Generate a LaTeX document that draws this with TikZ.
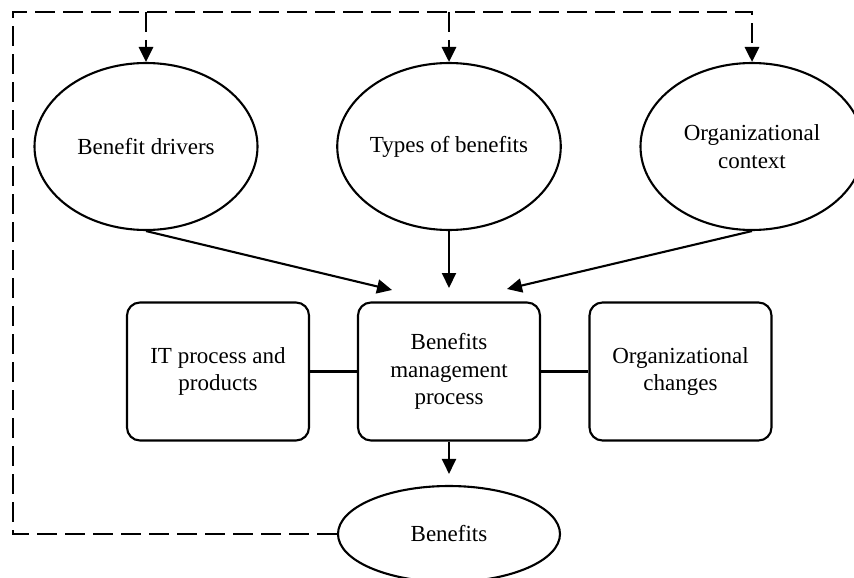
\documentclass[tikz,border=0pt]{standalone}
\usepackage{fontspec}
\setmainfont{Liberation Serif}
\usetikzlibrary{shapes.geometric,arrows.meta}
\begin{document}
\begin{tikzpicture}[x=1pt,y=-1pt,
  every node/.style={font=\fontsize{23}{27.5}\selectfont, align=center},
  oval/.style={draw, ellipse, line width=2.1pt, inner sep=0pt},
  bigoval/.style={oval, minimum width=223pt, minimum height=167pt},
  box/.style={draw, rounded corners=13pt, line width=2.1pt,
    minimum width=182pt, minimum height=138pt, inner sep=0pt},
  link/.style={line width=2.1pt},
  tip/.style={-{Triangle[length=15pt,width=14pt]}},
  flow/.style={link, tip},
  feedback/.style={line width=2.9pt, dash pattern=on 20pt off 8pt},
]
\useasboundingbox (0,0) rectangle (854,578);

% inputs
\node[bigoval] (drivers) at (146,146.5) {Benefit drivers};
\node[bigoval] (types)   at (449,146.5) {Types of benefits};
\node[bigoval] (context) at (752,146.5) {Organizational\\context};

% process row
\node[box] (itp) at (218,371.5) {IT process and\\products};
\node[box] (bmp) at (449,371.5) {Benefits\\management\\process};
\node[box] (orgc) at (680.5,371.5) {Organizational\\changes};

% outcome
\node[oval, minimum width=222pt, minimum height=96pt] (benefits) at (449,534) {Benefits};

% arrow ends just above the central box
\coordinate (inL) at (392,290);
\coordinate (inR) at (507,289);
\coordinate (inM) at (bmp.north |- 0,288);

\draw[flow] (drivers.south) -- (inL);
\draw[flow] (types.south) -- (inM);
\draw[flow] (context.south) -- (inR);

\draw[link] (itp.east) -- (bmp.west);
\draw[link] (bmp.east) -- (orgc.west);

\draw[flow, shorten >=11pt] (bmp.south) -- (benefits.north);

% feedback loop
\coordinate (cornerB) at (13,534);
\coordinate (cornerT) at (13,12);
\draw[feedback, tip] (benefits.west) -- (cornerB) -- (cornerT) -- (context.north |- cornerT) -- (context.north);
\draw[feedback, tip] (drivers.north |- cornerT) -- (drivers.north);
\draw[feedback, tip] (types.north |- cornerT) -- (types.north);
\end{tikzpicture}
\end{document}
